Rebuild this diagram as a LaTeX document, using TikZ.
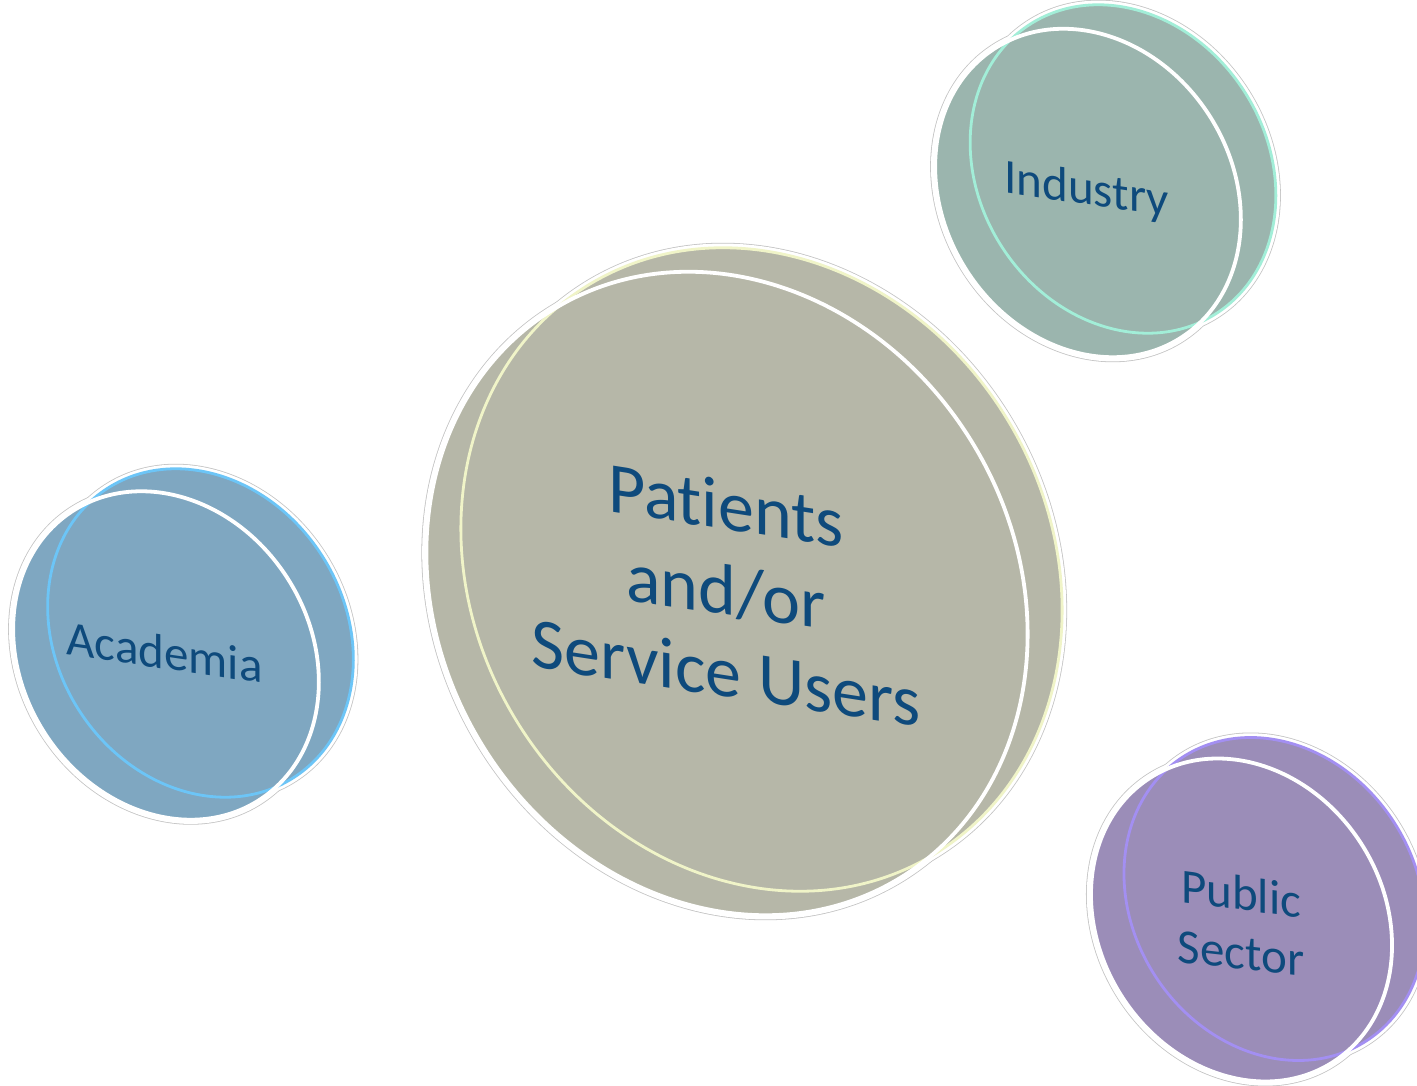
\documentclass[tikz,border=0pt]{standalone}
\usepackage{fontspec}
\setmainfont{Carlito}[Ligatures={NoCommon,NoRare,NoContextual}]
\definecolor{rimgrey}{HTML}{C4C4C4}
\definecolor{txtblue}{HTML}{0E4A7C}
\definecolor{pfill}{HTML}{B6B7A8}
\definecolor{pacc}{HTML}{F0F4C8}
\definecolor{ifill}{HTML}{9BB5AE}
\definecolor{iacc}{HTML}{A2EED8}
\definecolor{afill}{HTML}{7FA7C1}
\definecolor{aacc}{HTML}{6CC5F7}
\definecolor{sfill}{HTML}{9B8DB8}
\definecolor{sacc}{HTML}{A38FF2}
% #1,#2 front (white-rimmed) centre; #3,#4 back (accent-rimmed) centre;
% #5 x radius; #6 y radius; #7 rotation; #8 fill; #9 accent
\newcommand\coindisc[9]{%
  \foreach \cx/\cy in {#1/#2,#3/#4}{%
    \path[draw=rimgrey, line width=10pt, rotate around={#7:(\cx,\cy)}] (\cx,\cy) ellipse [x radius=#5pt, y radius=#6pt];}
  \foreach \cx/\cy in {#1/#2,#3/#4}{%
    \path[draw=white, line width=8.4pt, rotate around={#7:(\cx,\cy)}] (\cx,\cy) ellipse [x radius=#5pt, y radius=#6pt];}
  \foreach \cx/\cy in {#1/#2,#3/#4}{%
    \path[fill=#8, rotate around={#7:(\cx,\cy)}] (\cx,\cy) ellipse [x radius=#5pt, y radius=#6pt];}
  \path[draw=#9, line width=2.8pt, rotate around={#7:(#3,#4)}] (#3,#4) ellipse [x radius=#5pt, y radius=#6pt];
  \path[draw=white, line width=3.8pt, rotate around={#7:(#1,#2)}] (#1,#2) ellipse [x radius=#5pt, y radius=#6pt];
}
\tikzset{
  lbl/.style={text=txtblue, inner sep=0pt, anchor=base, transform shape},
  bigtxt/.style={lbl, font=\fontsize{72}{84}\selectfont},
  smalltxt/.style={lbl, font=\fontsize{49}{59}\selectfont}
}
\begin{document}
\begin{tikzpicture}[x=1pt,y=1pt]
\useasboundingbox (0,0) rectangle (1417,1085);
\fill[white] (0,0) rectangle (1417,1085);

% Patients and/or Service Users
\coindisc{727}{491.5}{761.5}{515.5}{288}{333}{31}{pfill}{pacc}
% Industry
\coindisc{1088}{892}{1123}{916}{144}{172}{33}{ifill}{iacc}
% Academia
\coindisc{166}{429.5}{200.5}{452}{144}{172}{33}{afill}{aacc}
% Public Sector
\coindisc{1241.5}{165}{1274.5}{186}{142}{169}{33}{sfill}{sacc}

\begin{scope}[shift={(726,555.5)}, yslant=-0.155]
  \node[bigtxt] (pat1) at (0,0) {Patients};
\end{scope}
\begin{scope}[shift={(726,470)}, yslant=-0.145]
  \node[bigtxt] (pat2) at (0,0) {and/or};
\end{scope}
\begin{scope}[shift={(726,388)}, yslant=-0.155]
  \node[bigtxt] (pat3) at (0,0) {Service Users};
\end{scope}
\begin{scope}[shift={(1086.5,880.5)}, yslant=-0.146]
  \node[smalltxt] (ind) at (0,0) {Industry};
\end{scope}
\begin{scope}[shift={(164.5,416)}, yslant=-0.146]
  \node[smalltxt] (aca) at (0,0) {Academia};
\end{scope}
\begin{scope}[shift={(1241,175)}, yslant=-0.13]
  \node[smalltxt] (pub1) at (0,0) {Public};
\end{scope}
\begin{scope}[shift={(1241,116)}, yslant=-0.11]
  \node[smalltxt] (pub2) at (0,0) {Sector};
\end{scope}
\end{tikzpicture}
\end{document}
